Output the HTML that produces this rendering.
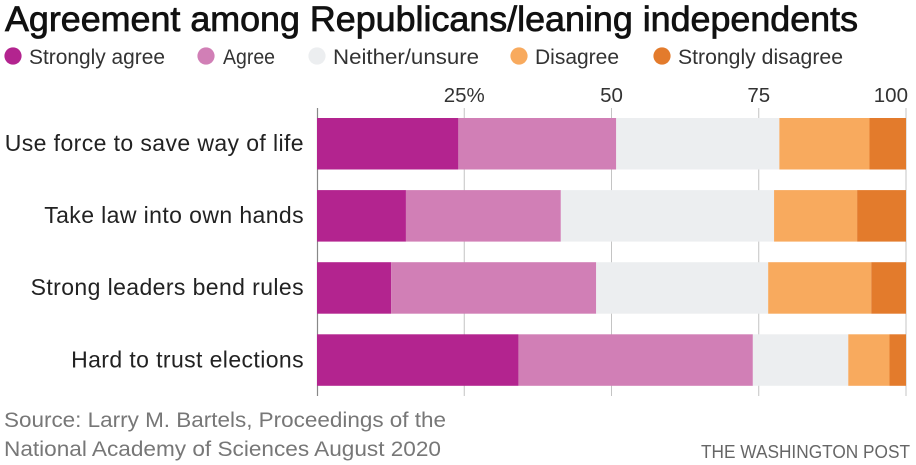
<!DOCTYPE html>
<html lang="en">
<head>
<meta charset="utf-8">
<title>Agreement among Republicans/leaning independents</title>
<style>
html,body{margin:0;padding:0;background:#fff;width:916px;height:465px;overflow:hidden}
svg{display:block;font-family:"Liberation Sans",sans-serif}
</style>
</head>
<body>
<svg id="chart" width="916" height="465" viewBox="0 0 916 465" xmlns="http://www.w3.org/2000/svg">
  <text x="5" y="31" font-size="35" fill="#111" stroke="#111" stroke-width="0.75" textLength="853" lengthAdjust="spacingAndGlyphs">Agreement among Republicans/leaning independents</text>

  <g font-size="21" fill="#333">
    <circle cx="13" cy="56" r="8.6" fill="#b3248f"/>
    <text x="29" y="64" textLength="136" lengthAdjust="spacingAndGlyphs">Strongly agree</text>
    <circle cx="206" cy="56" r="8.6" fill="#d17fb6"/>
    <text x="223" y="64" textLength="52" lengthAdjust="spacingAndGlyphs">Agree</text>
    <circle cx="317" cy="56" r="8.6" fill="#eceef0"/>
    <text x="333" y="64" textLength="146" lengthAdjust="spacingAndGlyphs">Neither/unsure</text>
    <circle cx="519" cy="56" r="8.6" fill="#f8aa5e"/>
    <text x="535" y="64" textLength="84" lengthAdjust="spacingAndGlyphs">Disagree</text>
    <circle cx="662" cy="56" r="8.6" fill="#e37b2c"/>
    <text x="678" y="64" textLength="165" lengthAdjust="spacingAndGlyphs">Strongly disagree</text>
  </g>

  <g id="axis-layer"></g>
  <g id="bar-layer"></g>
  <g id="label-layer"></g>

  <g font-size="21.5" fill="#777">
    <text x="4" y="427" textLength="442" lengthAdjust="spacingAndGlyphs">Source: Larry M. Bartels, Proceedings of the</text>
    <text x="4" y="456" textLength="437" lengthAdjust="spacingAndGlyphs">National Academy of Sciences August 2020</text>
  </g>
  <text x="701" y="458" font-size="18" fill="#666" textLength="209" lengthAdjust="spacingAndGlyphs">THE WASHINGTON POST</text>
</svg>
<script>
const categories = ["Use force to save way of life", "Take law into own hands", "Strong leaders bend rules", "Hard to trust elections"];
const stronglyAgree = [24.0, 15.1, 12.6, 34.2];
const agree = [26.8, 26.3, 34.8, 39.8];
const neither = [27.7, 36.2, 29.2, 16.2];
const disagree = [15.3, 14.1, 17.5, 7.0];
const stronglyDisagree = [6.2, 8.3, 5.9, 2.8];
const tickValues = [25, 50, 75, 100];
const tickLabels = ["25%", "50", "75", "100"];

const SVGNS = "http://www.w3.org/2000/svg";
const seriesList = [
  { key: "strongly-agree", values: stronglyAgree, color: "#b3248f" },
  { key: "agree", values: agree, color: "#d17fb6" },
  { key: "neither", values: neither, color: "#eceef0" },
  { key: "disagree", values: disagree, color: "#f8aa5e" },
  { key: "strongly-disagree", values: stronglyDisagree, color: "#e37b2c" }
];

const plotLeft = 317, plotRight = 906, plotTop = 108, plotBottom = 396;
const bandTop = 118, bandStep = 72.1, barHeight = 51.5;
const xScale = v => plotLeft + v / 100 * (plotRight - plotLeft);
const yScale = i => bandTop + i * bandStep;

function make(tag, attrs, parent) {
  const el = document.createElementNS(SVGNS, tag);
  for (const k in attrs) el.setAttribute(k, attrs[k]);
  parent.appendChild(el);
  return el;
}

const axisLayer = document.getElementById("axis-layer");
const barLayer = document.getElementById("bar-layer");
const labelLayer = document.getElementById("label-layer");

const baseline = make("line", { x1: plotLeft + 0.5, x2: plotLeft + 0.5, y1: plotTop, y2: plotBottom, stroke: "#888", "stroke-width": 1.2 }, axisLayer);



tickValues.forEach((v, i) => {
  const x = xScale(v);
  const grid = make("line", { x1: x, x2: x, y1: plotTop, y2: plotBottom, stroke: "#c4c4c4", "stroke-width": 1 }, axisLayer);
  
  
  const isLast = i === tickValues.length - 1;
  const label = make("text", {
    x: isLast ? x + 2 : x,
    y: 102,
    "font-size": 20.5,
    fill: "#333",
    "text-anchor": isLast ? "end" : "middle"
  }, axisLayer);
  
  
  label.textContent = tickLabels[i];
});

categories.forEach((name, r) => {
  let cumulative = 0;
  seriesList.forEach(s => {
    const v = s.values[r];
    const x0 = xScale(cumulative);
    const x1 = xScale(cumulative + v);
    const rect = make("rect", { x: x0, y: yScale(r), width: x1 - x0, height: barHeight, fill: s.color }, barLayer);
    
    
    rect.setAttribute('data-series', s.key);
    cumulative += v;
  });
  const label = make("text", {
    x: 304,
    y: yScale(r) + 33,
    "font-size": 23,
    "letter-spacing": 0.4,
    fill: "#222",
    "text-anchor": "end"
  }, labelLayer);
  
  
  label.textContent = name;
});
</script>
</body>
</html>
